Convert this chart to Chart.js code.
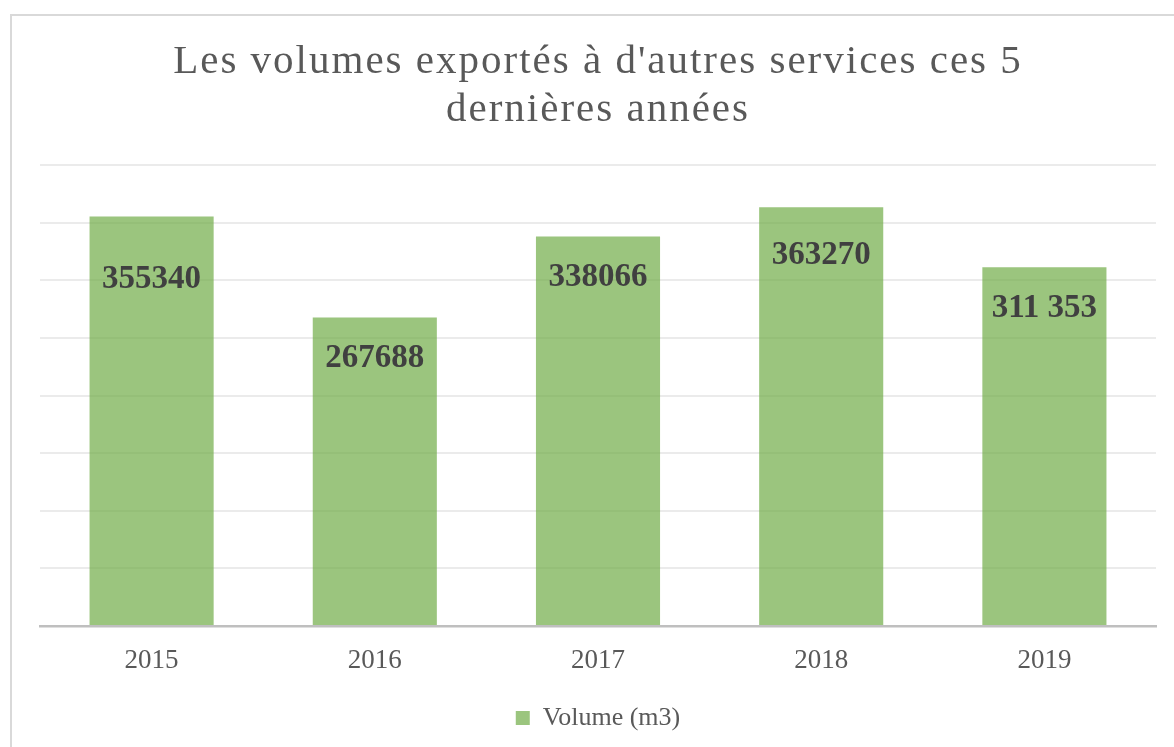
<!DOCTYPE html>
<html>
<head>
<meta charset="utf-8">
<script src="https://cdn.jsdelivr.net/npm/chart.js@4/dist/chart.umd.min.js"></script>
<style>
  html, body { margin: 0; padding: 0; background: #ffffff; }
  #wrap { width: 1174px; height: 747px; position: relative; }
</style>
</head>
<body>
<div id="wrap"><canvas id="c" width="1174" height="747"></canvas></div>
<script>
const titleLines = ["Les volumes exportés à d'autres services ces 5", "dernières années"];
const categories = ["2015", "2016", "2017", "2018", "2019"];
const seriesName = "Volume (m3)";
const volumes = [355340, 267688, 338066, 363270, 311353];
const valueLabels = ["355340", "267688", "338066", "363270", "311 353"];
const labelDrop = [63, 41, 41, 48, 41];

const SERIF = '"Liberation Serif", "Times New Roman", serif';

const framePlugin = {
  id: 'frame',
  beforeDraw(chart) {
    const ctx = chart.ctx;
    ctx.save();
    ctx.fillStyle = '#ffffff';
    ctx.fillRect(0, 0, chart.width, chart.height);
    ctx.strokeStyle = '#d9d9d9';
    ctx.lineWidth = 2;
    ctx.strokeRect(11, 15, chart.width + 20, chart.height + 20);
    ctx.restore();
  }
};

const titlePlugin = {
  id: 'spacedTitle',
  afterDraw(chart) {
    const ctx = chart.ctx;
    ctx.save();
    ctx.font = '41px ' + SERIF;
    ctx.letterSpacing = '2px';
    ctx.fillStyle = '#595959';
    ctx.textAlign = 'center';
    ctx.textBaseline = 'alphabetic';
    ctx.fillText(titleLines[0], 598, 73);
    ctx.fillText(titleLines[1], 598, 121);
    ctx.restore();
  }
};

const valueLabelPlugin = {
  id: 'valueLabels',
  afterDatasetsDraw(chart) {
    const ctx = chart.ctx;
    const meta = chart.getDatasetMeta(0);
    ctx.save();
    ctx.font = 'bold 33px ' + SERIF;
    ctx.fillStyle = '#404040';
    ctx.textAlign = 'center';
    ctx.textBaseline = 'middle';
    meta.data.forEach((bar, i) => {
      ctx.fillText(valueLabels[i], bar.x, bar.y + labelDrop[i]);
    });
    ctx.restore();
  }
};

new Chart(document.getElementById('c'), {
  type: 'bar',
  data: {
    labels: categories,
    datasets: [{
      label: seriesName,
      data: volumes,
      backgroundColor: 'rgba(112,173,71,0.7)',
      borderWidth: 0,
      categoryPercentage: 1,
      barPercentage: 0.556
    }]
  },
  options: {
    responsive: false,
    animation: false,
    devicePixelRatio: 1,
    layout: { padding: { top: 165, left: 40, right: 18, bottom: 6 } },
    plugins: {
      title: { display: false },
      tooltip: { enabled: false },
      legend: {
        display: true,
        position: 'bottom',
        labels: {
          boxWidth: 14,
          boxHeight: 14,
          padding: 10,
          color: '#595959',
          font: { family: SERIF, size: 26 }
        }
      }
    },
    scales: {
      x: {
        grid: { display: false, drawTicks: false },
        border: { display: true, color: '#bfbfbf', width: 2.5 },
        ticks: { color: '#595959', font: { family: SERIF, size: 27 }, padding: 19 },
        afterFit(scale) { scale.height = 69; }
      },
      y: {
        min: 0,
        max: 400000,
        ticks: { display: false, stepSize: 50000 },
        grid: { color: '#ebebeb', lineWidth: 2, drawTicks: false },
        border: { display: false },
        afterFit(scale) { scale.width = 0; }
      }
    }
  },
  plugins: [framePlugin, titlePlugin, valueLabelPlugin]
});
</script>
</body>
</html>
